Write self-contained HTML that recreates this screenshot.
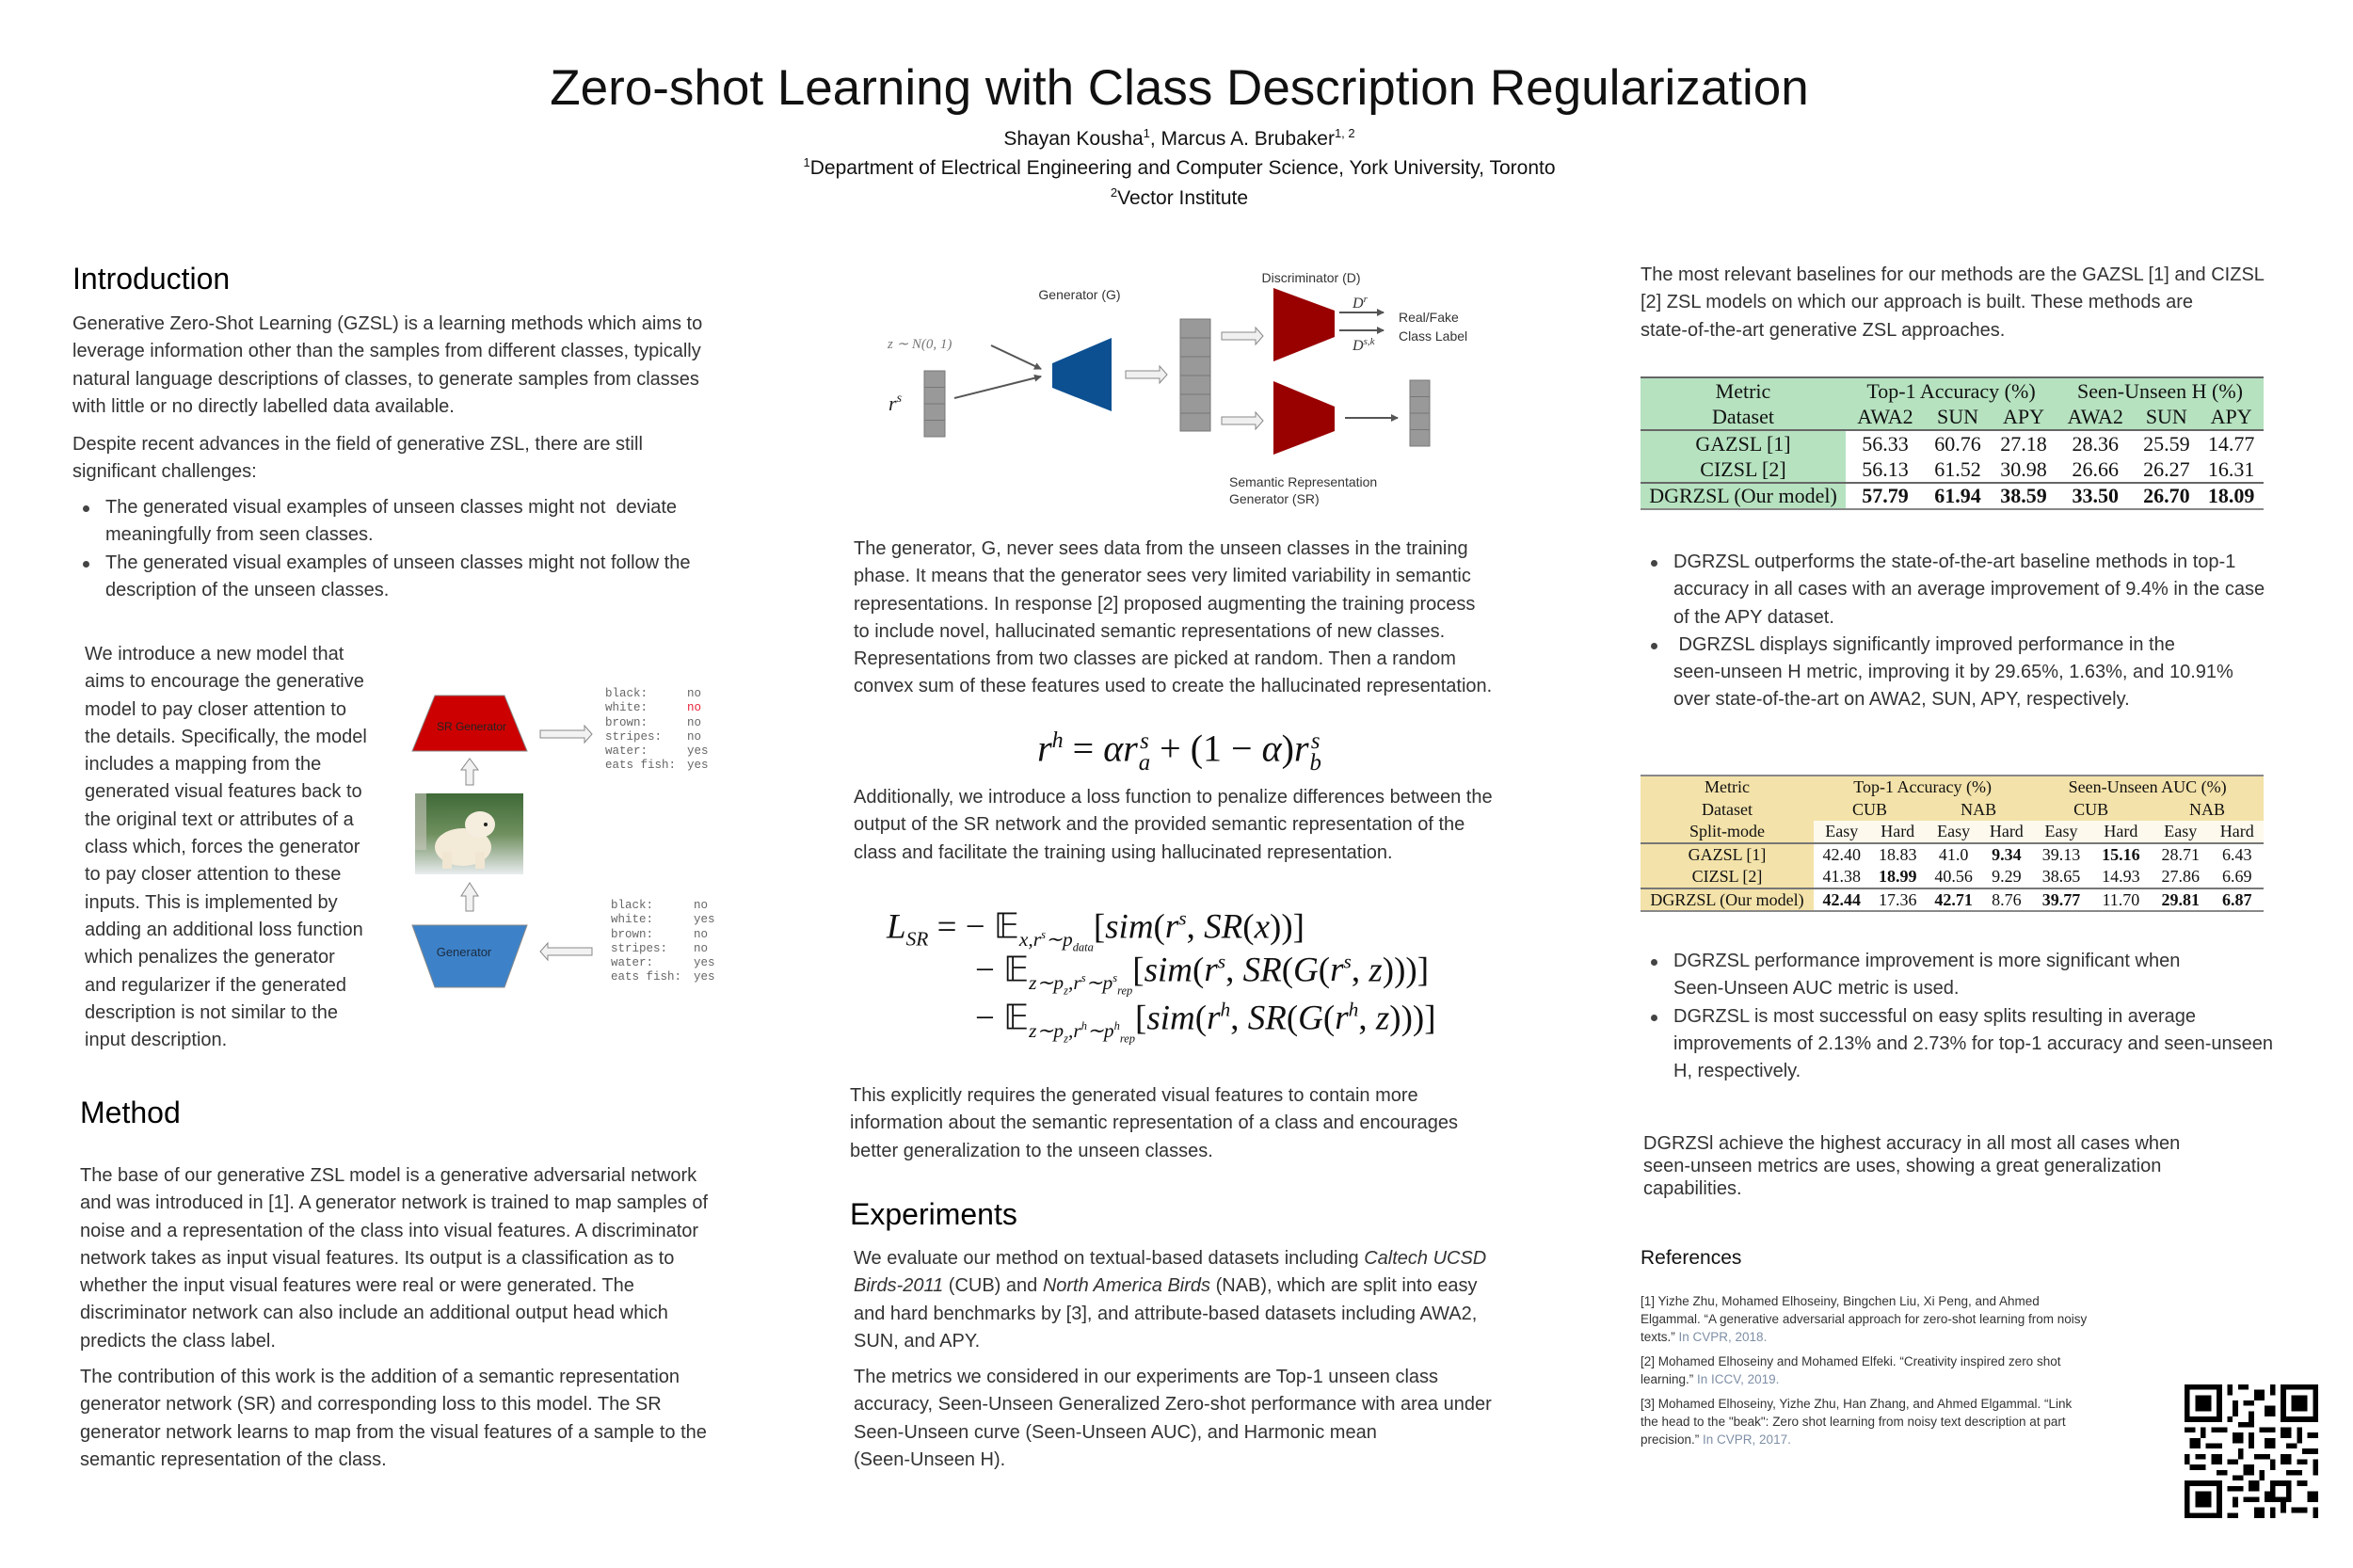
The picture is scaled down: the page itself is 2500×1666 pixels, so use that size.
<!DOCTYPE html>
<html><head><meta charset="utf-8"><style>
*{margin:0;padding:0;box-sizing:border-box}
body{width:2500px;height:1666px;background:#fff;position:relative;overflow:hidden;font-family:"Liberation Sans",Arial,sans-serif;color:#333}
.a{position:absolute;white-space:nowrap}
.t{font-size:20px;line-height:29.3px}
.h{font-size:32px;color:#000;line-height:40px}
.c{text-align:center}
ul{list-style:none}
li{position:relative}
li:before{content:"";position:absolute;left:-24px;top:12px;width:7px;height:7px;border-radius:50%;background:#444}
.m{font-family:"Liberation Serif",serif;color:#111}
.ss{display:inline-flex;flex-direction:column;vertical-align:middle;font-size:0.62em;line-height:0.95;margin-left:1px}
table{border-collapse:collapse;font-family:"Liberation Serif",serif;color:#111}
.mono{font-family:"Liberation Mono",monospace;font-size:12.5px;line-height:15.3px;color:#666}
.ref{font-size:13.5px;line-height:19px;color:#333}
.ref span{color:#7f8fa6}
.eq sub,.eq sup{font-size:0.58em}
</style></head><body>

<div class="a c" style="left:0;width:2506px;top:61px;font-size:53px;color:#111;line-height:66px">Zero-shot Learning with Class Description Regularization</div>
<div class="a c" style="left:0;width:2506px;top:134px;font-size:21px;color:#111">Shayan Kousha<sup style="font-size:13px">1</sup>, Marcus A. Brubaker<sup style="font-size:13px">1, 2</sup></div>
<div class="a c" style="left:0;width:2506px;top:165px;font-size:21px;color:#111"><sup style="font-size:13px">1</sup>Department of Electrical Engineering and Computer Science, York University, Toronto</div>
<div class="a c" style="left:0;width:2506px;top:197px;font-size:21px;color:#111"><sup style="font-size:13px">2</sup>Vector Institute</div>

<!-- LEFT COLUMN -->
<div class="a h" style="left:77px;top:276px">Introduction</div>
<div class="a t" style="left:77px;top:330px">Generative Zero-Shot Learning (GZSL) is a learning methods which aims to<br>leverage information other than the samples from different classes, typically<br>natural language descriptions of classes, to generate samples from classes<br>with little or no directly labelled data available.</div>
<div class="a t" style="left:77px;top:458px">Despite recent advances in the field of generative ZSL, there are still<br>significant challenges:</div>
<ul class="a t" style="left:112px;top:525px">
<li>The generated visual examples of unseen classes might not&nbsp; deviate<br>meaningfully from seen classes.</li>
<li>The generated visual examples of unseen classes might not follow the<br>description of the unseen classes.</li>
</ul>
<div class="a t" style="left:90px;top:681px">We introduce a new model that<br>aims to encourage the generative<br>model to pay closer attention to<br>the details. Specifically, the model<br>includes a mapping from the<br>generated visual features back to<br>the original text or attributes of a<br>class which, forces the generator<br>to pay closer attention to these<br>inputs. This is implemented by<br>adding an additional loss function<br>which penalizes the generator<br>and regularizer if the generated<br>description is not similar to the<br>input description.</div>

<!-- left figure -->
<svg class="a" style="left:420px;top:700px" width="390" height="390" viewBox="420 700 390 390">
<defs><linearGradient id="bg" x1="0" y1="0" x2="0" y2="1"><stop offset="0" stop-color="#3f6a38"/><stop offset="0.5" stop-color="#6f8f5e"/><stop offset="1" stop-color="#e9ecef"/></linearGradient></defs>
<polygon points="462,739 536,739 560,798 438,798" fill="#cc0000" stroke="#888" stroke-width="1"/>
<text x="501" y="776" font-size="12" text-anchor="middle" font-family="Liberation Sans" fill="#222">SR Generator</text>
<polygon points="574,776 621,776 621,771 629,780 621,789 621,784 574,784" fill="#f2f2f2" stroke="#888"/>
<polygon points="495,834 495,818 490,818 499,806 508,818 503,818 503,834" fill="#f2f2f2" stroke="#888"/>
<rect x="441" y="843" width="115" height="86" fill="url(#bg)"/>
<rect x="441" y="843" width="12" height="60" fill="#c9c8c0" opacity="0.6"/>
<ellipse cx="492" cy="900" rx="30" ry="20" fill="#f3ead8"/>
<ellipse cx="510" cy="876" rx="16" ry="14" fill="#f5eedf"/>
<circle cx="516" cy="876" r="2" fill="#222"/>
<rect x="470" y="905" width="10" height="18" fill="#f0e6d2"/><rect x="505" y="905" width="10" height="18" fill="#f0e6d2"/>
<polygon points="495,968 495,952 490,952 499,938 508,952 503,952 503,968" fill="#f2f2f2" stroke="#888"/>
<polygon points="438,983 560,983 536,1049 462,1049" fill="#3d82c8" stroke="#888" stroke-width="1"/>
<text x="493" y="1016" font-size="13" text-anchor="middle" font-family="Liberation Sans" fill="#1a2a40">Generator</text>
<polygon points="629,1007 582,1007 582,1002 574,1011 582,1020 582,1015 629,1015" fill="#f2f2f2" stroke="#888"/>
</svg>
<div class="a mono" style="left:643px;top:730px">black:<br>white:<br>brown:<br>stripes:<br>water:<br>eats fish:</div>
<div class="a mono" style="left:730px;top:730px">no<br><span style="color:#e8233a">no</span><br>no<br>no<br>yes<br>yes</div>
<div class="a mono" style="left:649px;top:955px">black:<br>white:<br>brown:<br>stripes:<br>water:<br>eats fish:</div>
<div class="a mono" style="left:737px;top:955px">no<br>yes<br>no<br>no<br>yes<br>yes</div>

<div class="a h" style="left:85px;top:1162px">Method</div>
<div class="a t" style="left:85px;top:1235px">The base of our generative ZSL model is a generative adversarial network<br>and was introduced in [1]. A generator network is trained to map samples of<br>noise and a representation of the class into visual features. A discriminator<br>network takes as input visual features. Its output is a classification as to<br>whether the input visual features were real or were generated. The<br>discriminator network can also include an additional output head which<br>predicts the class label.</div>
<div class="a t" style="left:85px;top:1449px">The contribution of this work is the addition of a semantic representation<br>generator network (SR) and corresponding loss to this model. The SR<br>generator network learns to map from the visual features of a sample to the<br>semantic representation of the class.</div>

<!-- MIDDLE -->
<svg class="a" style="left:900px;top:270px" width="700" height="290" viewBox="900 270 700 290" font-family="Liberation Sans">
<defs><marker id="ar" markerWidth="8" markerHeight="8" refX="7" refY="4" orient="auto" markerUnits="userSpaceOnUse"><path d="M0,0 L8,4 L0,8z" fill="#555"/></marker></defs>
<text x="1147" y="318" font-size="14" text-anchor="middle" fill="#333">Generator (G)</text>
<text x="1393" y="300" font-size="14" text-anchor="middle" fill="#333">Discriminator (D)</text>
<text x="943" y="370" font-size="15" font-family="Liberation Serif" font-style="italic" fill="#777">z ∼ N(0, 1)</text>
<text x="944" y="436" font-size="22" font-family="Liberation Serif" font-style="italic" fill="#222">r<tspan font-size="14" dy="-9">s</tspan></text>
<g fill="#999" stroke="#777"><rect x="982" y="394" width="22" height="17.5"/><rect x="982" y="411.5" width="22" height="17.5"/><rect x="982" y="429" width="22" height="17.5"/><rect x="982" y="446.5" width="22" height="17.5"/></g>
<line x1="1053" y1="367" x2="1106" y2="392" stroke="#555" stroke-width="2" marker-end="url(#ar)"/>
<line x1="1014" y1="423" x2="1106" y2="400" stroke="#555" stroke-width="2" marker-end="url(#ar)"/>
<polygon points="1118,386 1181,359 1181,437 1118,412" fill="#0d5092"/>
<polygon points="1196,394 1232,394 1232,389 1240,398 1232,407 1232,402 1196,402" fill="#f0f0f0" stroke="#888"/>
<g fill="#999" stroke="#777"><rect x="1254" y="339" width="32" height="20"/><rect x="1254" y="359" width="32" height="20"/><rect x="1254" y="379" width="32" height="20"/><rect x="1254" y="399" width="32" height="20"/><rect x="1254" y="419" width="32" height="20"/><rect x="1254" y="439" width="32" height="19"/></g>
<polygon points="1298,353 1334,353 1334,348 1342,357 1334,366 1334,361 1298,361" fill="#f0f0f0" stroke="#888"/>
<polygon points="1298,443 1334,443 1334,438 1342,447 1334,456 1334,451 1298,451" fill="#f0f0f0" stroke="#888"/>
<polygon points="1353,306 1418,330 1418,358 1353,384" fill="#990000"/>
<polygon points="1353,405 1418,432 1418,458 1353,483" fill="#990000"/>
<line x1="1423" y1="332" x2="1470" y2="332" stroke="#555" stroke-width="2" marker-end="url(#ar)"/>
<line x1="1423" y1="351" x2="1470" y2="351" stroke="#555" stroke-width="2" marker-end="url(#ar)"/>
<text x="1437" y="327" font-size="16" font-family="Liberation Serif" font-style="italic" fill="#333">D<tspan font-size="11" dy="-6">r</tspan></text>
<text x="1437" y="372" font-size="16" font-family="Liberation Serif" font-style="italic" fill="#333">D<tspan font-size="11" dy="-6">s,k</tspan></text>
<text x="1486" y="342" font-size="14" fill="#333">Real/Fake</text>
<text x="1486" y="362" font-size="14" fill="#333">Class Label</text>
<line x1="1429" y1="444" x2="1485" y2="444" stroke="#555" stroke-width="2" marker-end="url(#ar)"/>
<g fill="#999" stroke="#777"><rect x="1498" y="404" width="21" height="17.5"/><rect x="1498" y="421.5" width="21" height="17.5"/><rect x="1498" y="439" width="21" height="17.5"/><rect x="1498" y="456.5" width="21" height="17.5"/></g>
<text x="1306" y="517" font-size="14" fill="#333">Semantic Representation</text>
<text x="1306" y="535" font-size="14" fill="#333">Generator (SR)</text>
</svg>

<div class="a t" style="left:907px;top:569px">The generator, G, never sees data from the unseen classes in the training<br>phase. It means that the generator sees very limited variability in semantic<br>representations. In response [2] proposed augmenting the training process<br>to include novel, hallucinated semantic representations of new classes.<br>Representations from two classes are picked at random. Then a random<br>convex sum of these features used to create the hallucinated representation.</div>

<div class="a m c" style="left:1003px;width:500px;top:762px;font-size:40px;line-height:50px"><i>r</i><sup style="font-size:24px"><i>h</i></sup> = <i>αr</i><span class="ss"><i>s</i><i>a</i></span> + (1 − <i>α</i>)<i>r</i><span class="ss"><i>s</i><i>b</i></span></div>

<div class="a t" style="left:907px;top:833px">Additionally, we introduce a loss function to penalize differences between the<br>output of the SR network and the provided semantic representation of the<br>class and facilitate the training using hallucinated representation.</div>

<div class="a m eq" style="left:942px;top:954px;font-size:37px;line-height:44px"><i>L</i><sub><i>SR</i></sub> = − 𝔼<sub><i>x,r<sup>s</sup>∼p<sub>data</sub></i></sub>[<i>sim</i>(<i>r<sup>s</sup></i>, <i>SR</i>(<i>x</i>))]</div>
<div class="a m eq" style="left:1036px;top:1000px;font-size:37px;line-height:44px">− 𝔼<sub><i>z∼p<sub>z</sub>,r<sup>s</sup>∼p<sup>s</sup><sub>rep</sub></i></sub>[<i>sim</i>(<i>r<sup>s</sup></i>, <i>SR</i>(<i>G</i>(<i>r<sup>s</sup></i>, <i>z</i>)))]</div>
<div class="a m eq" style="left:1036px;top:1051px;font-size:37px;line-height:44px">− 𝔼<sub><i>z∼p<sub>z</sub>,r<sup>h</sup>∼p<sup>h</sup><sub>rep</sub></i></sub>[<i>sim</i>(<i>r<sup>h</sup></i>, <i>SR</i>(<i>G</i>(<i>r<sup>h</sup></i>, <i>z</i>)))]</div>

<div class="a t" style="left:903px;top:1150px">This explicitly requires the generated visual features to contain more<br>information about the semantic representation of a class and encourages<br>better generalization to the unseen classes.</div>

<div class="a h" style="left:903px;top:1270px">Experiments</div>
<div class="a t" style="left:907px;top:1323px">We evaluate our method on textual-based datasets including <i>Caltech UCSD</i><br><i>Birds-2011</i> (CUB) and <i>North America Birds</i> (NAB), which are split into easy<br>and hard benchmarks by [3], and attribute-based datasets including AWA2,<br>SUN, and APY.</div>
<div class="a t" style="left:907px;top:1449px">The metrics we considered in our experiments are Top-1 unseen class<br>accuracy, Seen-Unseen Generalized Zero-shot performance with area under<br>Seen-Unseen curve (Seen-Unseen AUC), and Harmonic mean<br>(Seen-Unseen H).</div>

<!-- RIGHT -->
<div class="a t" style="left:1743px;top:278px">The most relevant baselines for our methods are the GAZSL [1] and CIZSL<br>[2] ZSL models on which our approach is built. These methods are<br>state-of-the-art generative ZSL approaches.</div>

<table class="a" style="left:1743px;top:400px;width:662px;font-size:22px;border-top:2px solid #666;border-bottom:2px solid #888">
<colgroup><col style="width:218px"><col><col><col><col><col><col></colgroup>
<tr style="background:#b6e2c0;height:28px"><td class="c">Metric</td><td colspan="3" class="c">Top-1 Accuracy (%)</td><td colspan="3" class="c">Seen-Unseen H (%)</td></tr>
<tr style="background:#b6e2c0;height:28px;border-bottom:2px solid #666"><td class="c">Dataset</td><td class="c">AWA2</td><td class="c">SUN</td><td class="c">APY</td><td class="c">AWA2</td><td class="c">SUN</td><td class="c">APY</td></tr>
<tr style="height:28px"><td class="c" style="background:#b6e2c0">GAZSL [1]</td><td class="c">56.33</td><td class="c">60.76</td><td class="c">27.18</td><td class="c">28.36</td><td class="c">25.59</td><td class="c">14.77</td></tr>
<tr style="height:28px;border-bottom:2px solid #666"><td class="c" style="background:#b6e2c0">CIZSL [2]</td><td class="c">56.13</td><td class="c">61.52</td><td class="c">30.98</td><td class="c">26.66</td><td class="c">26.27</td><td class="c">16.31</td></tr>
<tr style="height:28px;font-weight:bold"><td class="c" style="background:#b6e2c0;font-weight:normal">DGRZSL (Our model)</td><td class="c">57.79</td><td class="c">61.94</td><td class="c">38.59</td><td class="c">33.50</td><td class="c">26.70</td><td class="c">18.09</td></tr>
</table>

<ul class="a t" style="left:1778px;top:583px">
<li>DGRZSL outperforms the state-of-the-art baseline methods in top-1<br>accuracy in all cases with an average improvement of 9.4% in the case<br>of the APY dataset.</li>
<li>&nbsp;DGRZSL displays significantly improved performance in the<br>seen-unseen H metric, improving it by 29.65%, 1.63%, and 10.91%<br>over state-of-the-art on AWA2, SUN, APY, respectively.</li>
</ul>

<table class="a" style="left:1743px;top:823px;width:662px;font-size:18px;border-top:2px solid #888;border-bottom:2px solid #888">
<colgroup><col style="width:184px"><col><col><col><col><col><col><col><col></colgroup>
<tr style="background:#f3e2a9;height:24px"><td class="c">Metric</td><td colspan="4" class="c">Top-1 Accuracy (%)</td><td colspan="4" class="c">Seen-Unseen AUC (%)</td></tr>
<tr style="background:#f3e2a9;height:24px"><td class="c">Dataset</td><td colspan="2" class="c">CUB</td><td colspan="2" class="c">NAB</td><td colspan="2" class="c">CUB</td><td colspan="2" class="c">NAB</td></tr>
<tr style="height:24px;background:#fdf9ec;border-bottom:2px solid #777"><td class="c" style="background:#f3e2a9">Split-mode</td><td class="c">Easy</td><td class="c">Hard</td><td class="c">Easy</td><td class="c">Hard</td><td class="c">Easy</td><td class="c">Hard</td><td class="c">Easy</td><td class="c">Hard</td></tr>
<tr style="height:24px"><td class="c" style="background:#f3e2a9">GAZSL [1]</td><td class="c">42.40</td><td class="c">18.83</td><td class="c">41.0</td><td class="c"><b>9.34</b></td><td class="c">39.13</td><td class="c"><b>15.16</b></td><td class="c">28.71</td><td class="c">6.43</td></tr>
<tr style="height:24px;border-bottom:2px solid #777"><td class="c" style="background:#f3e2a9">CIZSL [2]</td><td class="c">41.38</td><td class="c"><b>18.99</b></td><td class="c">40.56</td><td class="c">9.29</td><td class="c">38.65</td><td class="c">14.93</td><td class="c">27.86</td><td class="c">6.69</td></tr>
<tr style="height:24px"><td class="c" style="background:#f3e2a9">DGRZSL (Our model)</td><td class="c"><b>42.44</b></td><td class="c">17.36</td><td class="c"><b>42.71</b></td><td class="c">8.76</td><td class="c"><b>39.77</b></td><td class="c">11.70</td><td class="c"><b>29.81</b></td><td class="c"><b>6.87</b></td></tr>
</table>

<ul class="a t" style="left:1778px;top:1007px">
<li>DGRZSL performance improvement is more significant when<br>Seen-Unseen AUC metric is used.</li>
<li>DGRZSL is most successful on easy splits resulting in average<br>improvements of 2.13% and 2.73% for top-1 accuracy and seen-unseen<br>H, respectively.</li>
</ul>

<div class="a" style="left:1746px;top:1203px;font-size:20px;line-height:24px">DGRZSl achieve the highest accuracy in all most all cases when<br>seen-unseen metrics are uses, showing a great generalization<br>capabilities.</div>

<div class="a" style="left:1743px;top:1325px;font-size:21px;color:#111">References</div>
<div class="a ref" style="left:1743px;top:1373px">[1] Yizhe Zhu, Mohamed Elhoseiny, Bingchen Liu, Xi Peng, and Ahmed<br>Elgammal. “A generative adversarial approach for zero-shot learning from noisy<br>texts.” <span>In CVPR, 2018.</span></div>
<div class="a ref" style="left:1743px;top:1437px">[2] Mohamed Elhoseiny and Mohamed Elfeki. “Creativity inspired zero shot<br>learning.” <span>In ICCV, 2019.</span></div>
<div class="a ref" style="left:1743px;top:1482px">[3] Mohamed Elhoseiny, Yizhe Zhu, Han Zhang, and Ahmed Elgammal. “Link<br>the head to the "beak": Zero shot learning from noisy text description at part<br>precision.” <span>In CVPR, 2017.</span></div>

<!-- QR -->
<svg class="a" style="left:2320px;top:1471px" width="144" height="142" viewBox="0 0 25 25" shape-rendering="crispEdges">
<g fill="#000">
<path d="M0,0h7v7h-7zM1,1v5h5v-5zM2,2h3v3h-3z" fill-rule="evenodd"/>
<path d="M18,0h7v7h-7zM19,1v5h5v-5zM20,2h3v3h-3z" fill-rule="evenodd"/>
<path d="M0,18h7v7h-7zM1,19v5h5v-5zM2,20h3v3h-3z" fill-rule="evenodd"/>
<path d="M8,0h1v2h-1zM10,0h2v1h-2zM13,1h2v2h-2zM9,3h1v3h-1zM11,3h2v1h-2zM15,4h2v2h-2zM12,5h1v2h-1zM8,6h1v1h-1zM16,0h1v2h-1zM10,7h3v1h-3z"/>
<path d="M0,8h2v1h-2zM3,8h1v2h-1zM5,8h3v1h-3zM1,10h2v2h-2zM4,11h3v1h-3zM0,13h1v2h-1zM2,13h2v1h-2zM5,13h2v2h-2zM1,15h3v1h-3zM6,16h2v1h-2z"/>
<path d="M9,9h2v2h-2zM12,9h1v3h-1zM14,8h3v1h-3zM10,12h1v2h-1zM13,13h3v1h-3zM8,14h2v1h-2zM15,10h2v2h-2zM11,15h2v2h-2zM14,16h1v2h-1zM9,17h2v1h-2zM16,14h1v2h-1z"/>
<path d="M18,8h2v2h-2zM21,8h1v3h-1zM23,9h2v1h-2zM19,11h2v1h-2zM22,12h3v1h-3zM18,13h2v2h-2zM21,14h2v1h-2zM24,14h1v3h-1zM19,16h3v1h-3z"/>
<path d="M8,19h3v1h-3zM12,18h2v2h-2zM9,21h1v2h-1zM11,21h3v1h-3zM8,24h2v1h-2zM13,23h2v2h-2zM16,18h4v4h-4zM17,19h2v2h-2z" fill-rule="evenodd"/>
<path d="M21,18h2v1h-2zM23,20h2v2h-2zM20,23h3v1h-3zM16,23h1v2h-1zM18,22h1v2h-1zM24,23h1v2h-1zM15,20h1v2h-1z"/>
</g>
</svg>

</body></html>
